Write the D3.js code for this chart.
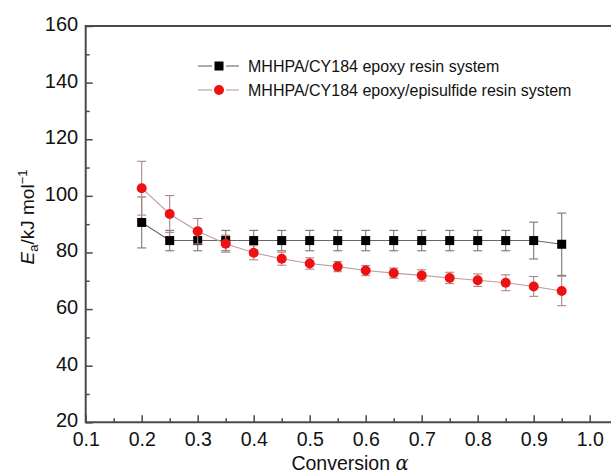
<!DOCTYPE html>
<html>
<head>
<meta charset="utf-8">
<script src="https://cdn.jsdelivr.net/npm/d3@7"></script>
<style>
  html, body { margin: 0; padding: 0; background: #fff; }
  svg { display: block; font-family: "Liberation Sans", Arial, Helvetica, sans-serif; }
</style>
</head>
<body>
<svg id="chart" width="611" height="475"></svg>
<script>
// ---- data ----
const conversion = [0.2, 0.25, 0.3, 0.35, 0.4, 0.45, 0.5, 0.55, 0.6, 0.65, 0.7, 0.75, 0.8, 0.85, 0.9, 0.95];
const epoxyEa   = [90.6, 84.2, 84.2, 84.2, 84.2, 84.2, 84.2, 84.2, 84.2, 84.2, 84.2, 84.2, 84.2, 84.2, 84.2, 82.9];
const epoxyErr  = [9.0, 3.6, 3.6, 3.6, 3.6, 3.6, 3.6, 3.6, 3.6, 3.6, 3.6, 3.6, 3.6, 3.6, 6.5, 11.0];
const episEa    = [102.7, 93.6, 87.5, 83.1, 79.9, 77.8, 76.1, 75.0, 73.6, 72.7, 71.9, 71.0, 70.2, 69.3, 68.0, 66.4];
const episErr   = [9.5, 6.5, 4.5, 3.0, 2.5, 2.3, 2.0, 1.8, 1.8, 1.8, 2.0, 2.0, 2.2, 2.8, 3.5, 5.2];
const seriesNames = ["MHHPA/CY184 epoxy resin system", "MHHPA/CY184 epoxy/episulfide resin system"];
const xTickLabels = ["0.1", "0.2", "0.3", "0.4", "0.5", "0.6", "0.7", "0.8", "0.9", "1.0"];
const yTicks = [20, 40, 60, 80, 100, 120, 140, 160];

const svg = d3.select("#chart");
const x = d3.scaleLinear().domain([0.1, 1.0]).range([85.7, 589.7]);
const y = d3.scaleLinear().domain([20, 160]).range([422.3, 26]);
const axisColor = "#4a4a4a";

// ---- axes ----
const xMajor = xTickLabels.map(Number);
const xMinor = d3.range(0.15, 1.0, 0.1);
const yMinor = d3.range(30, 160, 20);

const xAxis = d3.axisBottom(x).tickValues(xMajor).tickFormat((d, i) => xTickLabels[i])
  .tickSizeInner(-7).tickSizeOuter(0).tickPadding(10);
const gx = svg.append("g").attr("transform", `translate(0,${y(20)})`).call(xAxis);
gx.select(".domain").remove();
gx.selectAll(".tick line").attr("stroke", axisColor).attr("stroke-width", 1.5);
gx.selectAll(".tick text").attr("font-size", 19.5).attr("fill", "#111").attr("dy", "0.71em");
const gxm = svg.append("g").attr("transform", `translate(0,${y(20)})`)
  .call(d3.axisBottom(x).tickValues(xMinor).tickFormat("").tickSizeInner(-4).tickSizeOuter(0));
gxm.select(".domain").remove();
gxm.selectAll(".tick line").attr("stroke", axisColor).attr("stroke-width", 1.5);

const yAxis = d3.axisLeft(y).tickValues(yTicks).tickFormat(d3.format("d"))
  .tickSizeInner(-7).tickSizeOuter(0).tickPadding(7.5);
const gy = svg.append("g").attr("transform", `translate(${x(0.1)},0)`).call(yAxis);
gy.select(".domain").remove();
gy.selectAll(".tick line").attr("stroke", axisColor).attr("stroke-width", 1.5);
gy.selectAll(".tick text").attr("font-size", 20).attr("fill", "#111").attr("dy", "0.22em");
const gym = svg.append("g").attr("transform", `translate(${x(0.1)},0)`)
  .call(d3.axisLeft(y).tickValues(yMinor).tickFormat("").tickSizeInner(-4).tickSizeOuter(0));
gym.select(".domain").remove();
gym.selectAll(".tick line").attr("stroke", axisColor).attr("stroke-width", 1.5);

// frame lines (left, bottom, top extend to edge)
svg.append("line").attr("x1", x(0.1)).attr("x2", 611).attr("y1", y(20)).attr("y2", y(20))
  .attr("stroke", axisColor).attr("stroke-width", 2);
svg.append("line").attr("x1", x(0.1)).attr("x2", 611).attr("y1", y(160)).attr("y2", y(160))
  .attr("stroke", axisColor).attr("stroke-width", 2);
svg.append("line").attr("x1", x(0.1)).attr("x2", x(0.1)).attr("y1", y(160) - 1).attr("y2", y(20) + 1)
  .attr("stroke", axisColor).attr("stroke-width", 2);

// axis titles
svg.append("text").attr("x", 350).attr("y", 470).attr("text-anchor", "middle")
  .attr("font-size", 19.5).attr("fill", "#111")
  .call(t => {
    t.append("tspan").text("Conversion ");
    t.append("tspan").attr("font-style", "italic").attr("font-family", "'DejaVu Serif', serif").text("α");
  });

const yt = svg.append("text").attr("transform", "translate(34,217) rotate(-90)")
  .attr("text-anchor", "middle").attr("font-size", 19).attr("fill", "#111");
yt.append("tspan").attr("font-style", "italic").text("E");
yt.append("tspan").attr("font-size", 13).attr("dy", 4).text("a");
yt.append("tspan").attr("dy", -4).text("/kJ mol");
yt.append("tspan").attr("font-size", 13).attr("dy", -7).text("−1");

// ---- series ----
const series = [
  { name: seriesNames[0], ea: epoxyEa, err: epoxyErr, line: "#666", errColor: "#777", fill: "#000", shape: "square" },
  { name: seriesNames[1], ea: episEa, err: episErr, line: "#c49a9a", errColor: "#b48282", fill: "#ee1111", shape: "circle" }
];

series.forEach(s => {
  const pts = conversion.map((c, i) => ({ c, v: s.ea[i], e: s.err[i] }));
  const g = svg.append("g");
  g.append("path").datum(pts)
    .attr("d", d3.line().x(d => x(d.c)).y(d => y(d.v)))
    .attr("fill", "none").attr("stroke", s.line).attr("stroke-width", 1.1);
  const eb = g.selectAll(".eb").data(pts).join("g");
  eb.append("line").attr("x1", d => x(d.c)).attr("x2", d => x(d.c))
    .attr("y1", d => y(d.v - d.e)).attr("y2", d => y(d.v + d.e))
    .attr("stroke", s.errColor).attr("stroke-width", 1.1);
  [-1, 1].forEach(sg => {
    eb.append("line").attr("x1", d => x(d.c) - 4.5).attr("x2", d => x(d.c) + 4.5)
      .attr("y1", d => y(d.v + sg * d.e)).attr("y2", d => y(d.v + sg * d.e))
      .attr("stroke", s.errColor).attr("stroke-width", 1.1);
  });
  if (s.shape === "square") {
    g.selectAll(".m").data(pts).join("rect")
      .attr("x", d => x(d.c) - 4.5).attr("y", d => y(d.v) - 4.5)
      .attr("width", 9).attr("height", 9).attr("fill", s.fill);
  } else {
    g.selectAll(".m").data(pts).join("circle")
      .attr("cx", d => x(d.c)).attr("cy", d => y(d.v)).attr("r", 5)
      .attr("fill", s.fill);
  }
});

// ---- legend ----
const legendRows = [66, 90];
series.forEach((s, i) => {
  const ly = legendRows[i];
  const lg = svg.append("g");
  lg.append("line").attr("x1", 198).attr("x2", 212).attr("y1", ly).attr("y2", ly).attr("stroke", s.line).attr("stroke-width", 1.1);
  lg.append("line").attr("x1", 226).attr("x2", 239).attr("y1", ly).attr("y2", ly).attr("stroke", s.line).attr("stroke-width", 1.1);
  if (s.shape === "square") {
    lg.append("rect").attr("x", 219 - 4.5).attr("y", ly - 4.5).attr("width", 9).attr("height", 9).attr("fill", s.fill);
  } else {
    lg.append("circle").attr("cx", 219).attr("cy", ly).attr("r", 5).attr("fill", s.fill);
  }
  lg.append("text").attr("x", 248).attr("y", ly).attr("dy", "0.36em")
    .attr("font-size", 16).attr("fill", "#111").text(s.name);
});
</script>
</body>
</html>
